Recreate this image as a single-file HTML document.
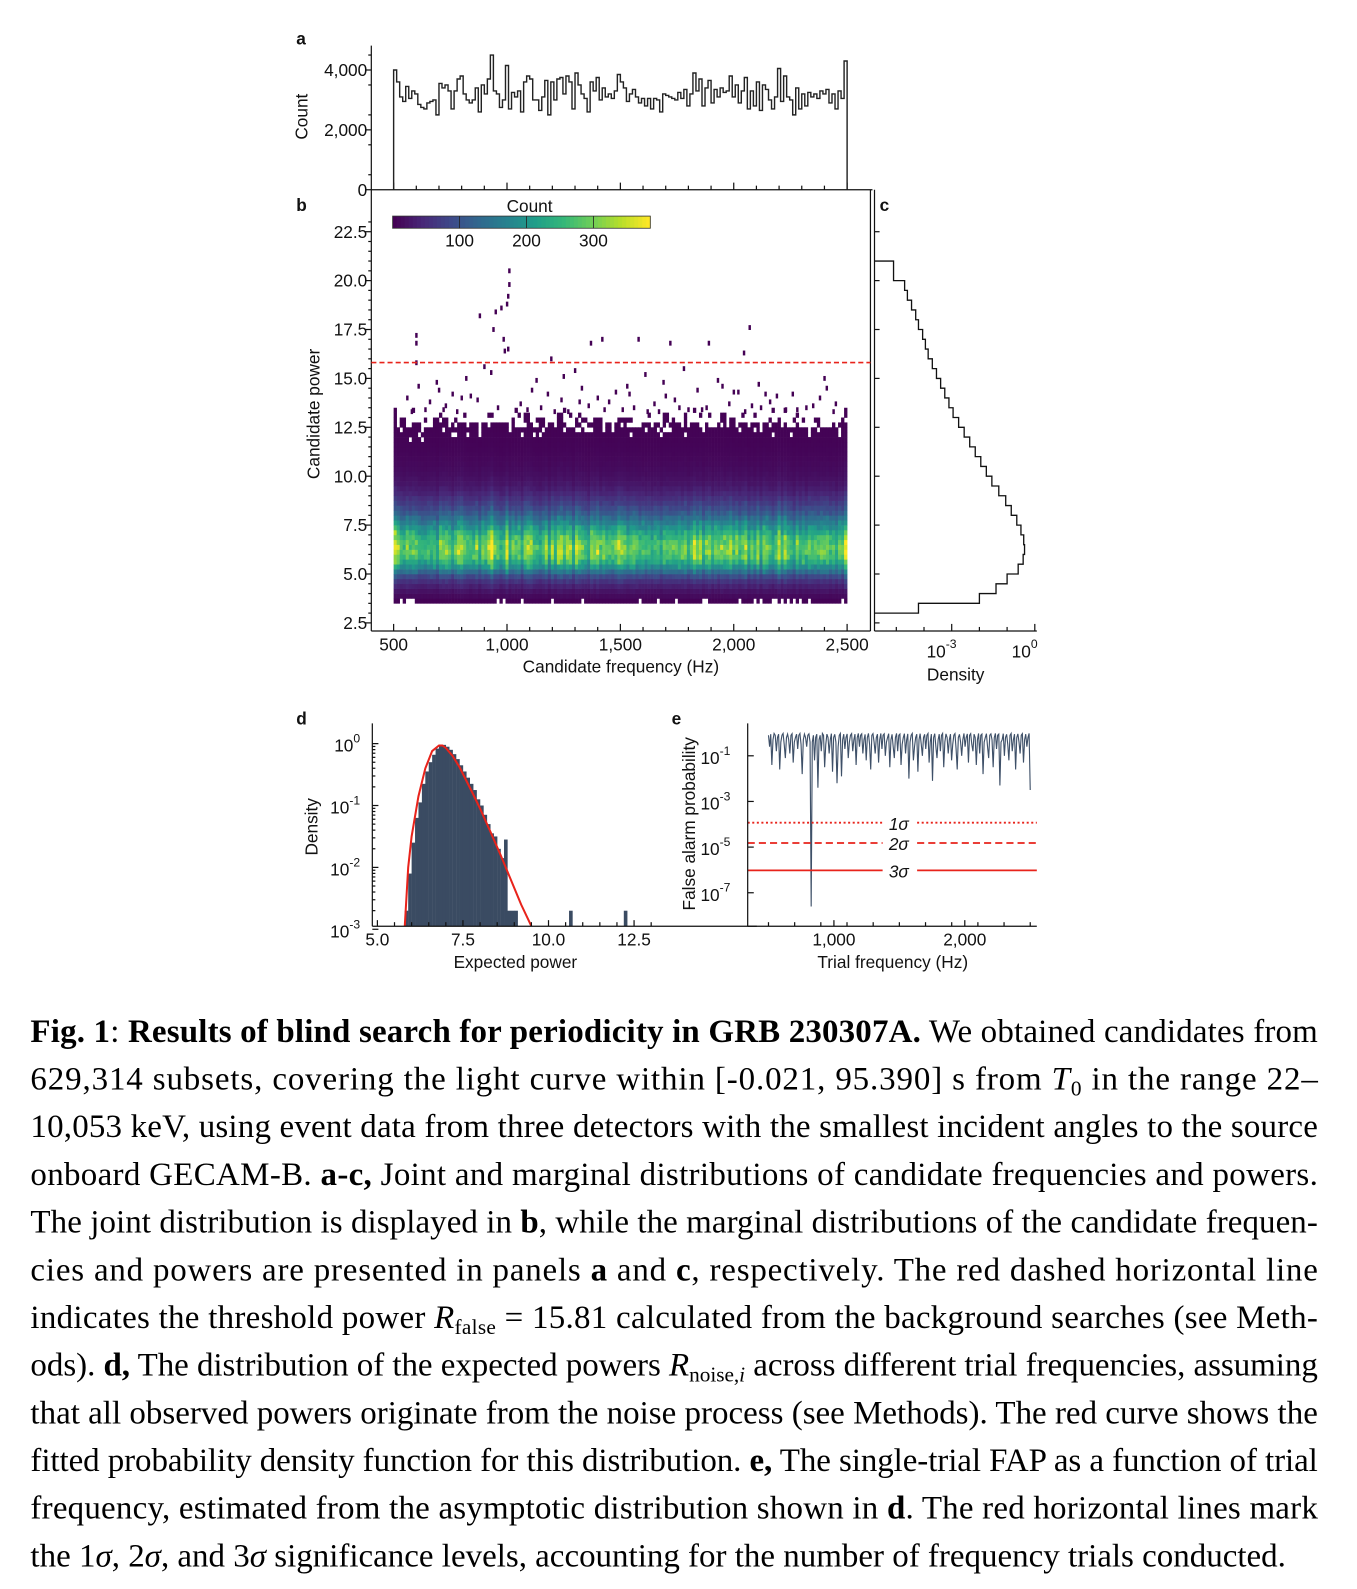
<!DOCTYPE html>
<html><head><meta charset="utf-8"><style>
html,body{margin:0;padding:0;background:#fff;}
svg{display:block;}
.ax{font-family:"Liberation Sans",sans-serif;font-size:17px;fill:#111;}
.cap{font-family:"Liberation Serif",serif;font-size:32.5px;fill:#000;}
.b{font-weight:bold;}
</style></head><body>
<svg id="fig" width="1357" height="1589" viewBox="0 0 1337.6 1566.3" preserveAspectRatio="none" xmlns="http://www.w3.org/2000/svg">
<g id="plots"></g>
<g id="caption">
<text class="cap" x="30" y="1027" textLength="1269" lengthAdjust="spacing"><tspan class="b">Fig. 1</tspan>: <tspan class="b">Results of blind search for periodicity in GRB 230307A.</tspan> We obtained candidates from</text>
<text class="cap" x="30" y="1074" textLength="1269" lengthAdjust="spacing">629,314 subsets, covering the light curve within [-0.021, 95.390] s from <tspan font-style="italic">T</tspan><tspan font-size="21" dy="6">0</tspan><tspan dy="-6"> in the range 22–</tspan></text>
<text class="cap" x="30" y="1121" textLength="1269" lengthAdjust="spacing">10,053 keV, using event data from three detectors with the smallest incident angles to the source</text>
<text class="cap" x="30" y="1168" textLength="1269" lengthAdjust="spacing">onboard GECAM-B. <tspan class="b">a-c,</tspan> Joint and marginal distributions of candidate frequencies and powers.</text>
<text class="cap" x="30" y="1215" textLength="1269" lengthAdjust="spacing">The joint distribution is displayed in <tspan class="b">b</tspan>, while the marginal distributions of the candidate frequen-</text>
<text class="cap" x="30" y="1262" textLength="1269" lengthAdjust="spacing">cies and powers are presented in panels <tspan class="b">a</tspan> and <tspan class="b">c</tspan>, respectively.  The red dashed horizontal line</text>
<text class="cap" x="30" y="1309" textLength="1269" lengthAdjust="spacing">indicates the threshold power <tspan font-style="italic">R</tspan><tspan font-size="21" dy="6">false</tspan><tspan dy="-6"> = 15.81 calculated from the background searches (see Meth-</tspan></text>
<text class="cap" x="30" y="1356" textLength="1269" lengthAdjust="spacing">ods). <tspan class="b">d,</tspan> The distribution of the expected powers <tspan font-style="italic">R</tspan><tspan font-size="21" dy="6">noise,<tspan font-style="italic">i</tspan></tspan><tspan dy="-6"> across different trial frequencies, assuming</tspan></text>
<text class="cap" x="30" y="1403" textLength="1269" lengthAdjust="spacing">that all observed powers originate from the noise process (see Methods). The red curve shows the</text>
<text class="cap" x="30" y="1450" textLength="1269" lengthAdjust="spacing">fitted probability density function for this distribution. <tspan class="b">e,</tspan> The single-trial FAP as a function of trial</text>
<text class="cap" x="30" y="1497" textLength="1269" lengthAdjust="spacing">frequency, estimated from the asymptotic distribution shown in <tspan class="b">d</tspan>. The red horizontal lines mark</text>
<text class="cap" x="30" y="1544">the 1<tspan font-style="italic">σ</tspan>, 2<tspan font-style="italic">σ</tspan>, and 3<tspan font-style="italic">σ</tspan> significance levels, accounting for the number of frequency trials conducted.</text>
</g>
</svg>
<script>
// ---- data ----
const histCounts=[4000,3600,3100,2950,3450,3050,3300,3200,2850,2750,2700,2900,2950,3000,2500,3550,3400,3500,3300,2700,3300,3700,3800,3200,3000,2900,3000,3400,2600,3500,3200,3700,4500,3300,3200,2750,3000,4150,2700,3250,3100,3300,2600,3600,3800,3700,3000,3000,2650,3100,3650,2500,3600,3000,3700,3750,3200,3800,3600,2700,3900,3500,3200,3050,2600,3600,3300,3750,3000,3400,3100,3200,3050,3300,3850,3600,3400,2950,3200,3350,3100,2900,3050,2800,3050,2700,3050,3000,2600,3200,3150,3100,3050,3000,3250,3050,3350,2800,3200,3900,3300,3700,2800,3400,3650,2900,3350,3100,3400,3250,3300,3800,3100,3500,2900,3300,3750,2700,3300,2800,3600,2650,3500,3350,3000,2700,3100,4050,2950,3800,3100,3000,2500,3400,2700,3200,2800,3250,3100,3200,3050,3300,3200,3350,2900,3200,2700,3300,3050,4300];
const powerBinStart=[3.0,3.5,4.0,4.5,5.0,5.5,6.0,6.5,7.0,7.5,8.0,8.5,9.0,9.5,10.0,10.5,11.0,11.5,12.0,12.5,13.0,13.5,14.0,14.5,15.0,15.5,16.0,16.5,17.0,17.5,18.0,18.5,19.0,19.5,20.0,20.5];
const powerLogDensity=[-4.2,-2.0,-1.4,-1.0,-0.6,-0.42,-0.37,-0.4,-0.5,-0.65,-0.85,-1.05,-1.3,-1.55,-1.75,-1.95,-2.15,-2.35,-2.55,-2.75,-2.95,-3.1,-3.25,-3.4,-3.55,-3.7,-3.85,-3.95,-4.05,-4.2,-4.3,-4.45,-4.6,-4.7,-5.1,-5.1];
const outlierFreq=[1010,1010,1005,1000,975,950,880,940,600,600,985,990,1005,1580,1720,1890,2070,2045,1370,1420,1195,1300,600,610,700,760,820,930,1130,1250,1330,1480,1530,1610,1690,1780,1840,1930,2020,2110,2190,2260,2400,2410,660,730,870,1060,1150,1240,1360,1450,1560,1650,1740,1880,1980,2080,2160,2320,2450,560,640,690,780,840,900,1090,1180,1270,1400,1510,1620,1700,1800,1950,2050,2140,2230,2350,2440,580,720,800,960,1110,1210,1320,1430,1540,1670,1760,1860,2000,2120,2280,2380];
const outlierPower=[20.5,19.8,19.2,18.8,18.6,18.4,18.2,17.5,17.2,16.8,17,16.4,16.5,17,16.8,16.8,17.6,16.3,16.8,17,16,15.4,15.8,14.6,14.4,14.2,15,15.3,14.9,15.1,14.5,14.3,14.6,15.2,14.8,15.5,14.4,14.9,14.3,14.7,14.1,14.2,15,14.5,13.8,13.6,13.9,13.7,13.5,13.9,13.6,13.8,13.5,13.7,13.9,13.5,13.7,13.6,13.8,13.5,13.7,14.0,13.4,14.8,13.3,14.1,15.6,13.4,14.2,13.3,14.0,13.4,13.3,14.1,13.4,14.6,13.3,14.2,13.4,13.6,13.3,13.3,13.4,14.0,13.5,14.4,13.3,13.8,13.4,14.2,13.3,13.5,13.4,14.3,13.5,13.4,14.0];
const threshold=15.81;
const dBinStart=[5.8,5.9,6.0,6.1,6.2,6.3,6.4,6.5,6.6,6.7,6.8,6.9,7.0,7.1,7.2,7.3,7.4,7.5,7.6,7.7,7.8,7.9,8.0,8.1,8.2,8.3,8.4,8.5,8.6,8.7,8.8,8.9,9.0,10.6,12.2];
const dLogDensity=[-2.7,-2.1,-1.6,-1.2,-0.95,-0.65,-0.45,-0.3,-0.18,-0.08,-0.03,-0.02,-0.05,-0.1,-0.17,-0.25,-0.35,-0.45,-0.55,-0.65,-0.75,-0.9,-1.0,-1.15,-1.3,-1.45,-1.5,-1.7,-1.85,-1.55,-2.7,-2.7,-2.7,-2.7,-2.7];
const fitX=[5.8,5.9,6.0,6.2,6.4,6.6,6.8,6.9,7.0,7.2,7.4,7.6,7.8,8.0,8.3,8.6,8.9,9.2,9.5];
const fitLog=[-3,-2,-1.5,-0.85,-0.4,-0.12,-0.03,-0.03,-0.07,-0.2,-0.38,-0.6,-0.82,-1.05,-1.42,-1.8,-2.2,-2.6,-3.0];
const fapLog=[-0.1,-0.6,-0.05,-1.4,-0.3,-0.02,-0.1,-0.8,-0.2,-0.05,-1.6,-0.4,-0.1,-0.02,-0.5,-1.1,-0.2,-0.05,-0.3,-0.9,-0.1,-0.03,-1.3,-0.4,-0.2,-0.05,-0.7,-0.1,-0.02,-0.5,-1.8,-0.3,-0.05,-0.2,-0.6,-0.1,-0.04,-0.4,-7.6,-0.4,-0.1,-1.2,-0.2,-0.05,-2.4,-0.3,-0.1,-0.8,-0.02,-0.1,-1.5,-0.5,-0.05,-0.2,-0.9,-0.3,-0.03,-1.7,-0.2,-0.06,-0.4,-2.2,-0.6,-0.1,-0.02,-1.9,-0.3,-0.05,-0.7,-0.2,-0.04,-1.1,-0.4,-0.1,-0.03,-0.8,-0.3,-0.05,-1.4,-0.2,-0.02,-0.6,-0.1,-0.04,-0.9,-0.3,-0.06,-1.2,-0.2,-0.02,-0.5,-1.6,-0.1,-0.03,-0.4,-0.9,-0.2,-0.05,-1.3,-0.3,-0.02,-0.7,-0.1,-0.04,-1.0,-0.4,-0.2,-0.03,-1.5,-0.3,-0.06,-0.6,-1.1,-0.2,-0.02,-0.8,-0.1,-0.05,-1.4,-0.5,-0.2,-0.03,-0.9,-0.3,-0.04,-2.0,-0.4,-0.1,-0.02,-1.2,-0.6,-0.2,-0.05,-1.7,-0.3,-0.03,-0.5,-1.0,-0.2,-0.06,-0.7,-0.1,-0.02,-1.3,-0.4,-0.05,-2.1,-0.2,-0.03,-0.6,-1.1,-0.3,-0.05,-0.8,-0.1,-0.02,-1.5,-0.4,-0.04,-0.2,-0.9,-0.3,-0.05,-1.2,-0.5,-0.1,-0.03,-0.7,-1.6,-0.2,-0.06,-0.4,-1.0,-0.3,-0.02,-0.6,-0.2,-0.04,-1.3,-0.1,-0.03,-0.5,-0.8,-0.05,-0.2,-1.4,-0.3,-0.02,-0.9,-0.1,-0.05,-1.8,-0.4,-0.2,-0.03,-0.6,-1.1,-0.1,-0.04,-0.3,-1.5,-0.2,-0.02,-0.7,-0.1,-0.05,-2.3,-0.4,-0.3,-0.03,-1.0,-0.2,-0.06,-0.5,-1.2,-0.1,-0.02,-0.8,-0.3,-0.05,-1.6,-0.2,-0.04,-0.4,-0.9,-0.1,-0.03,-1.3,-0.3,-0.05,-0.6,-0.2,-0.02,-2.5];
const sigmaLabels=['1σ','2σ','3σ'];
const sigmaLog=[-3.93,-4.82,-6.02];
const sigmaDash=['2,2.5','7,4',''];

// ---- helpers ----
const NS='http://www.w3.org/2000/svg';
const root=document.getElementById('plots');
function mk(tag,attrs,parent){const e=document.createElementNS(NS,tag);for(const k in attrs)e.setAttribute(k,attrs[k]);(parent||root).appendChild(e);return e;}
function txt(s,x,y,attrs,parent){const e=mk('text',Object.assign({x:x,y:y,class:'ax'},attrs||{}),parent);e.textContent=s;return e;}
function line(x1,y1,x2,y2,attrs,parent){return mk('line',Object.assign({x1,y1,x2,y2,stroke:'#111','stroke-width':1.2},attrs||{}),parent);}
const vir=['#440154','#482878','#3e4989','#31688e','#26828e','#1f9e89','#35b779','#6ece58','#b5de2b','#fde725'];
function hex(h){return [parseInt(h.slice(1,3),16),parseInt(h.slice(3,5),16),parseInt(h.slice(5,7),16)];}
function viridis(t){t=Math.max(0,Math.min(1,t));const p=t*(vir.length-1),i=Math.min(vir.length-2,Math.floor(p)),f=p-i;const a=hex(vir[i]),b=hex(vir[i+1]);return 'rgb('+a.map((v,k)=>Math.round(v+(b[k]-v)*f)).join(',')+')';}
const fx=f=>388+(f-500)*(835-388)/2000;

// ---- panel a ----
const ga=mk('g',{});


const ya=c=>187-c*59/2000;
txt('a',292,44,{'font-weight':'bold','font-size':19},ga);
line(366,45,366,187,{},ga);
line(366,187,860,187,{},ga);
[0,2000,4000].forEach(v=>{line(360,ya(v),366,ya(v),{},ga);txt(v.toLocaleString('en-US'),362,ya(v)+6,{'text-anchor':'end'},ga);});
for(let v=500;v<=4500;v+=1000)line(363,ya(v),366,ya(v),{},ga);
for(let f=500;f<=2500;f+=100)line(fx(f),187,fx(f),f%500?183:180,{},ga);
const ttl=txt('Count',0,0,{transform:'translate(303,115) rotate(-90)','text-anchor':'middle'},ga);


{const bw=2000/histCounts.length;let d='M'+fx(500)+','+ya(0);
histCounts.forEach((c,i)=>{d+=' L'+fx(500+i*bw)+','+ya(c)+' L'+fx(500+(i+1)*bw)+','+ya(c);});
d+=' L'+fx(2500)+','+ya(0);
const p=mk('path',{d:d,fill:'none',stroke:'#222','stroke-width':1.4},ga);

}

// ---- panel b ----
const gb=mk('g',{});


const yb=p=>614-(p-2.5)*48.2/2.5;
const cmax=385, peakCount=300;
const histMean=histCounts.reduce((a,b)=>a+b,0)/histCounts.length;
function logDAt(p){for(let j=0;j<powerBinStart.length-1;j++){const c0=powerBinStart[j]+0.25,c1=c0+0.5;if(p>=c0&&p<=c1){const f=(p-c0)/0.5;return powerLogDensity[j]+(powerLogDensity[j+1]-powerLogDensity[j])*f;}}return powerLogDensity[0];}
{const n=histCounts.length,bw=2000/n;const peakLog=Math.max(...powerLogDensity);
histCounts.forEach((hc,i)=>{const cf=hc/histMean;
 for(let p0=3.5;p0<13.5;p0+=0.25){const k=Math.round((p0-3.5)*4);
  const jit=histCounts[(i*7+k*13)%n]/histMean;
  const base=peakCount*Math.pow(10,logDAt(p0+0.125)-peakLog)*cf;
  if(base*jit*jit*jit<1.3)continue;
  const cnt=base*Math.sqrt(jit);
  const r=mk('rect',{x:fx(500+i*bw),y:yb(p0+0.25),width:fx(500+(i+1)*bw)-fx(500+i*bw)+0.3,height:yb(p0)-yb(p0+0.25)+0.3,fill:viridis(cnt/cmax)},gb);
  
  
 }});}
outlierFreq.forEach((f,i)=>{const r=mk('rect',{x:fx(f)-1.1,y:yb(outlierPower[i])-2.4,width:2.4,height:4.8,fill:'#440154'},gb);
 
 });
line(366,187,366,622,{},gb);line(366,622,858,622,{},gb);line(858,187,858,622,{},gb);
for(let p=2.5;p<=22.5;p+=2.5){line(360,yb(p),366,yb(p),{},gb);txt(p.toFixed(1),362,yb(p)+6,{'text-anchor':'end'},gb);}
for(let p=3;p<=23;p+=0.5)if(p%2.5)line(363,yb(p),366,yb(p),{},gb);
for(let f=500;f<=2500;f+=100)line(fx(f),622,fx(f),f%500?618:615,{},gb);
for(let f=500;f<=2500;f+=500)txt(f.toLocaleString('en-US'),fx(f),641,{'text-anchor':'middle'},gb);
{const t=txt('Candidate frequency (Hz)',612,663,{'text-anchor':'middle'},gb);}
{const t=txt('Candidate power',0,0,{transform:'translate(315,408) rotate(-90)','text-anchor':'middle'},gb);}
txt('b',292,208,{'font-weight':'bold','font-size':19},gb);
{const l=line(366,yb(threshold),858,yb(threshold),{stroke:'#e8231b','stroke-width':1.5,'stroke-dasharray':'5,3'},gb);}
{const cb=mk('g',{},gb);
for(let k=0;k<64;k++)mk('rect',{x:387+k*254/64,y:213,width:254/64+0.4,height:12,fill:viridis(k/63)},cb);
mk('rect',{x:387,y:213,width:254,height:12,fill:'none',stroke:'#333','stroke-width':0.8},cb);
[100,200,300].forEach(v=>{const x=387+v/cmax*254;line(x,213,x,225,{stroke:'#222','stroke-width':0.8},cb);txt(v,x,243,{'text-anchor':'middle'},cb);});
txt('Count',522,209,{'text-anchor':'middle'},cb);}

// ---- panel c ----
const gc=mk('g',{});


const xc=ld=>1020+27.3*ld;
txt('c',867,208,{'font-weight':'bold','font-size':19},gc);
line(862,187,862,622,{},gc);line(862,622,1022,622,{},gc);
for(let p=2.5;p<=22.5;p+=2.5)line(862,yb(p),867,yb(p),{},gc);
[[-3,'10','-3'],[0,'10','0']].forEach(([l,b,e])=>{line(xc(l),622,xc(l),615,{},gc);const t=txt(b,xc(l)-10,648,{'text-anchor':'middle'},gc);const s=mk('tspan',{dy:-9,'font-size':12},t);s.textContent=e;});
for(let l=-5;l<=0;l++)if(l!==-3&&l!==0)line(xc(l),622,xc(l),618,{},gc);
txt('Density',942,671,{'text-anchor':'middle'},gc);
{let d='M862,'+yb(powerBinStart[0]);
powerBinStart.forEach((p0,j)=>{d+=' L'+xc(powerLogDensity[j])+','+yb(p0)+' L'+xc(powerLogDensity[j])+','+yb(p0+0.5);});
d+=' L862,'+yb(powerBinStart[powerBinStart.length-1]+0.5);
const p=mk('path',{d:d,fill:'none',stroke:'#111','stroke-width':1.3},gc);

}

// ---- panel d ----
const gd=mk('g',{});


const xd=v=>372+(v-5)*(625-372)/7.5;
const yd=l=>733-61*l;
txt('d',292,714,{'font-weight':'bold','font-size':19},gd);
dBinStart.forEach((b,i)=>{const r=mk('rect',{x:xd(b),y:yd(dLogDensity[i]),width:xd(b+0.1)-xd(b)+0.2,height:913-yd(dLogDensity[i]),fill:'#3a4b62'},gd);
 
 });
{let d='';fitX.forEach((x,i)=>{d+=(i?' L':'M')+xd(x)+','+Math.min(913,yd(fitLog[i]));});
const p=mk('path',{d:d,fill:'none',stroke:'#e8231b','stroke-width':2},gd);}
line(367,713,367,913,{},gd);line(367,913,746,913,{},gd);
[0,-1,-2,-3].forEach(l=>{line(367,yd(l),373,yd(l),{},gd);const t=txt('10',355,yd(l)+8,{'text-anchor':'end'},gd);const s=mk('tspan',{dy:-9,'font-size':12},t);s.textContent=l;});
for(let l=-3;l<0;l++)for(let m=2;m<10;m++)line(367,yd(l+Math.log10(m)),370,yd(l+Math.log10(m)),{},gd);
[5,7.5,10,12.5].forEach(v=>{line(xd(v),913,xd(v),907,{},gd);txt(v.toFixed(1),xd(v),932,{'text-anchor':'middle'},gd);});
for(let v=5.5;v<=13;v+=0.5)if(v%2.5)line(xd(v),913,xd(v),909,{},gd);
txt('Expected power',508,954,{'text-anchor':'middle'},gd);
txt('Density',0,0,{transform:'translate(313,815) rotate(-90)','text-anchor':'middle'},gd);

// ---- panel e ----
const ge=mk('g',{});


const xe=f=>822+(f-1000)*129/1000;
const ye=l=>722.5-22.5*l;
txt('e',662,714,{'font-weight':'bold','font-size':19},ge);
{const bw=2000/(fapLog.length-1);let d='';
fapLog.forEach((l,i)=>{d+=(i?' L':'M')+xe(500+i*bw).toFixed(2)+','+ye(l).toFixed(2);});
const p=mk('path',{d:d,fill:'none',stroke:'#3e5068','stroke-width':1.1},ge);}
sigmaLog.forEach((l,i)=>{const y=ye(l);
 const a=line(737,y,870,y,{stroke:'#e8231b','stroke-width':1.8,'stroke-dasharray':sigmaDash[i]},ge);
 
 
 line(904,y,1022,y,{stroke:'#e8231b','stroke-width':1.8,'stroke-dasharray':sigmaDash[i]},ge);
 txt(sigmaLabels[i],886,y+7,{'text-anchor':'middle',fill:'#e8231b','font-size':20,'font-style':'italic','font-family':'Liberation Serif, serif'},ge);});
line(737,713,737,913,{},ge);line(737,913,1022,913,{},ge);
[-1,-3,-5,-7].forEach(l=>{line(737,ye(l),743,ye(l),{},ge);const t=txt('10',720,ye(l)+8,{'text-anchor':'end'},ge);const s=mk('tspan',{dy:-9,'font-size':12},t);s.textContent=l;});
[1000,2000].forEach(f=>{line(xe(f),913,xe(f),907,{},ge);txt(f.toLocaleString('en-US'),xe(f),932,{'text-anchor':'middle'},ge);});
for(let f=500;f<=2500;f+=200)line(xe(f),913,xe(f),909,{},ge);
txt('Trial frequency (Hz)',880,954,{'text-anchor':'middle'},ge);
txt('False alarm probability',0,0,{transform:'translate(685,812) rotate(-90)','text-anchor':'middle'},ge);
</script>
</body></html>
